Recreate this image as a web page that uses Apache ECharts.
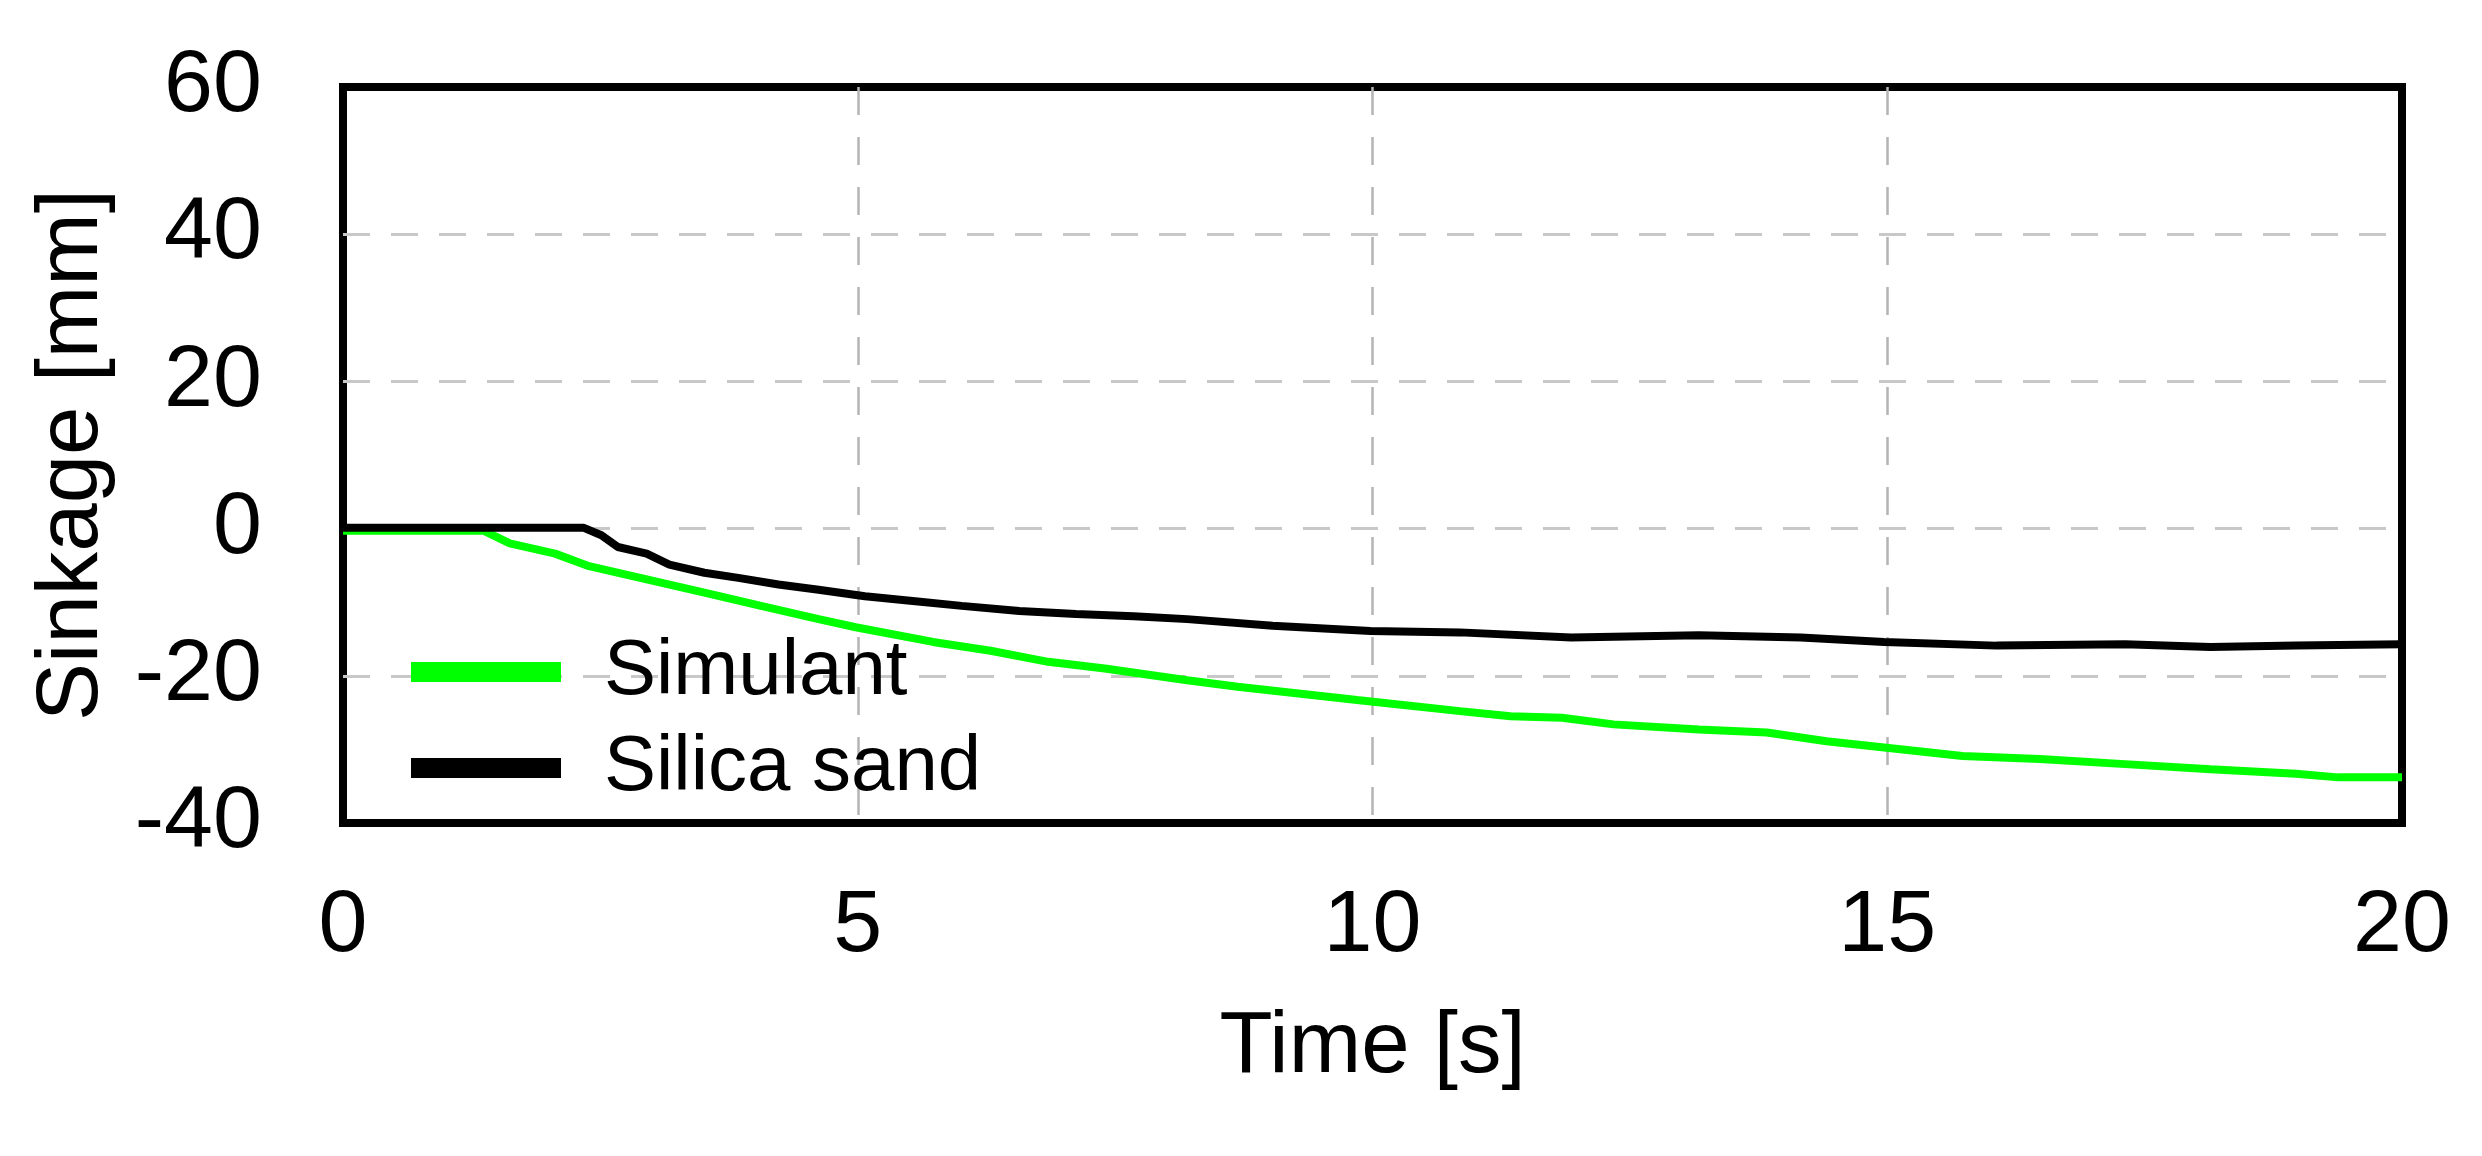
<!DOCTYPE html>
<html>
<head>
<meta charset="utf-8">
<script src="https://cdn.jsdelivr.net/npm/echarts@6/dist/echarts.min.js"></script>
<style>html,body{margin:0;padding:0;background:#fff;}#c{width:2482px;height:1156px;}</style>
</head>
<body>
<div id="c"></div>
<script>
const xTicks = [0, 5, 10, 15, 20];
const yTicks = [-40, -20, 0, 20, 40, 60];
const simulantTime = [0, 1.37, 1.62, 2.06, 2.39, 2.95, 3.51, 4.06, 4.62, 4.98, 5.73, 6.29, 6.85, 7.40, 8.2, 8.69, 9.85, 10.85, 11.34, 11.84, 12.34, 13.17, 13.83, 14.41, 15.15, 15.73, 16.48, 17.31, 18.14, 18.97, 19.38, 20];
const simulantSinkage = [-0.3, -0.3, -2.0, -3.4, -5.1, -6.9, -8.7, -10.5, -12.3, -13.4, -15.4, -16.6, -18.1, -19.0, -20.6, -21.5, -23.3, -24.8, -25.5, -25.7, -26.6, -27.3, -27.7, -28.9, -30.0, -30.9, -31.3, -32.0, -32.7, -33.3, -33.8, -33.8];
const silicaTime = [0, 2.34, 2.51, 2.67, 2.95, 3.17, 3.51, 3.84, 4.23, 4.62, 5.07, 5.51, 6.01, 6.57, 7.12, 7.68, 8.2, 9.03, 9.98, 10.85, 11.93, 13.17, 14.16, 14.97, 16.06, 17.31, 18.14, 18.97, 20];
const silicaSinkage = [0.1, 0.1, -0.9, -2.5, -3.4, -4.9, -6.0, -6.7, -7.6, -8.3, -9.2, -9.8, -10.5, -11.2, -11.6, -11.9, -12.3, -13.2, -13.9, -14.1, -14.8, -14.5, -14.8, -15.4, -15.9, -15.7, -16.1, -15.9, -15.7];
const seriesNames = ['Simulant', 'Silica sand'];

const font = 'Liberation Sans, Arial, sans-serif';
const chart = echarts.init(document.getElementById('c'));
chart.setOption({
  animation: false,
  backgroundColor: '#fff',
  grid: { left: 343, right: 80, top: 87, bottom: 333, show: true, borderColor: '#000', borderWidth: 8, backgroundColor: 'transparent' },
  legend: {
    orient: 'vertical', left: 406, top: 628, itemWidth: 150, itemHeight: 20, itemGap: 18,
    icon: 'rect',
    textStyle: { fontFamily: font, fontSize: 78, color: '#000', lineHeight: 78, padding: [0, 0, 0, 38] },
    data: seriesNames
  },
  xAxis: {
    type: 'value', min: xTicks[0], max: xTicks[xTicks.length - 1], interval: 5,
    name: 'Time [s]', nameLocation: 'middle', nameGap: 182,
    nameTextStyle: { fontFamily: font, fontSize: 87, color: '#000' },
    axisLine: { show: false }, axisTick: { show: false },
    axisLabel: { margin: 60, fontFamily: font, fontSize: 88, color: '#000' },
    splitLine: { show: true, showMinLine: false, showMaxLine: false, lineStyle: { color: '#b4b4b4', width: 2.5, type: [28, 22] } }
  },
  yAxis: {
    type: 'value', min: yTicks[0], max: yTicks[yTicks.length - 1], interval: 20,
    name: 'Sinkage [mm]', nameLocation: 'middle', nameGap: 226,
    nameTextStyle: { fontFamily: font, fontSize: 87, color: '#000' },
    axisLine: { show: false }, axisTick: { show: false },
    axisLabel: { margin: 81, fontFamily: font, fontSize: 88, color: '#000' },
    splitLine: { show: true, showMinLine: false, showMaxLine: false, lineStyle: { color: '#c8c8c8', width: 3, type: [27, 21] } }
  },
  series: [
    { name: seriesNames[0], type: 'line', symbol: 'none', color: '#00ff00',
      lineStyle: { color: '#00ff00', width: 8 },
      data: simulantTime.map((t, i) => [t, simulantSinkage[i]]) },
    { name: seriesNames[1], type: 'line', symbol: 'none', color: '#000000',
      lineStyle: { color: '#000000', width: 8 },
      data: silicaTime.map((t, i) => [t, silicaSinkage[i]]) }
  ]
});
</script>
</body>
</html>
